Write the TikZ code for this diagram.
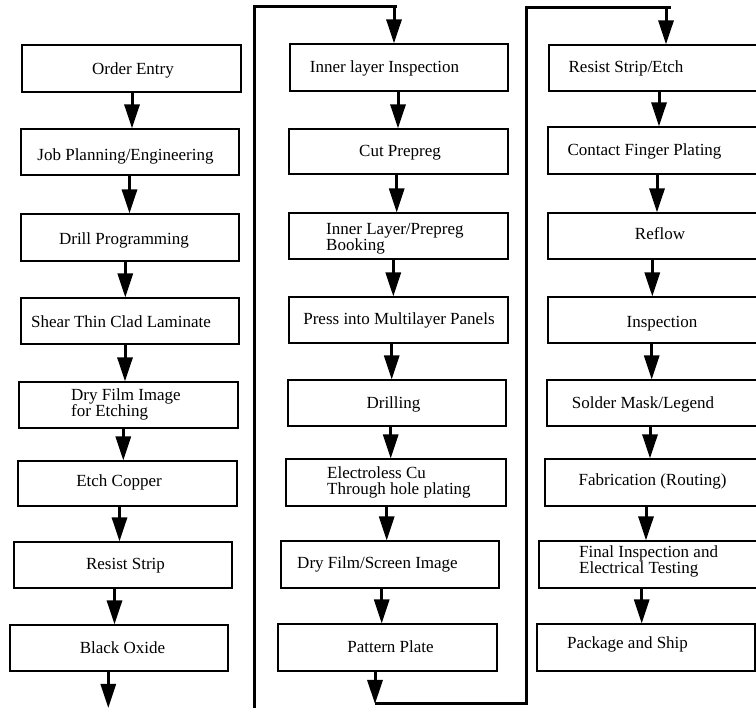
\documentclass[tikz,border=0pt]{standalone}
\usepackage{fontspec}
\setmainfont{Liberation Serif}
\usetikzlibrary{arrows.meta,fit}

\tikzset{
  stepbox/.style={draw, line width=1.1pt, inner sep=0pt},
  caption/.style={font=\fontsize{17}{17}\selectfont, inner sep=0pt},
  flow/.style={line width=3pt, -{Triangle[length=24pt,width=15pt]}},
  link/.style={line width=3pt},
}

% box with one centred line: name, x1, y1, x2, y2, text x, baseline, text
\newcommand\onebox[8]{%
  \node[stepbox, fit={(#2,#3) (#4,#5)}] (#1) {};
  \node[caption, anchor=base] (#1-t) at (#6,#7) {#8};}
% box with two left-aligned lines: name, x1, y1, x2, y2, left x, first baseline, line 1, line 2
\newcommand\twobox[9]{%
  \node[stepbox, fit={(#2,#3) (#4,#5)}] (#1) {};
  \node[caption, anchor=base west] (#1-t) at (#6,#7) {#8};
  \node[caption, anchor=base west] (#1-u) at (#6,{#7+16}) {#9};}
% arrow from one box down to the next at a given x
\newcommand\flowstep[3]{%
  \coordinate (#1-x) at (#3,0);
  \draw[flow] (#1.south -| #1-x) -- (#2.north -| #1-x);}

\begin{document}
\begin{tikzpicture}[x=1pt, y=-1pt]
\useasboundingbox (0,0) rectangle (756,708);
\clip (0,0) rectangle (756,708);

% first column
\onebox{b1}{22}{45}{241}{92}{133}{74.5}{Order Entry}
\onebox{b2}{21}{129}{239}{175}{125.5}{161}{Job Planning/Engineering}
\onebox{b3}{21}{214}{239}{261}{124}{244.3}{Drill Programming}
\onebox{b4}{21}{298}{239}{344}{121}{327.3}{Shear Thin Clad Laminate}
\twobox{b5}{19}{382}{238}{428}{71}{400.7}{Dry Film Image}{for Etching}
\onebox{b6}{18}{461}{237}{506}{119}{486.7}{Etch Copper}
\onebox{b7}{14}{542}{232}{588}{125.5}{570}{Resist Strip}
\onebox{b8}{10}{625}{228}{671}{122.5}{653.3}{Black Oxide}

% second column
\onebox{b9}{290}{44}{508}{91}{384.5}{72.7}{Inner layer Inspection}
\onebox{b10}{289}{129}{508}{174}{400}{156.7}{Cut Prepreg}
\twobox{b11}{289}{213}{508}{259}{326}{235}{Inner Layer/Prepreg}{Booking}
\onebox{b12}{289}{297}{508}{343}{399}{324.3}{Press into Multilayer Panels}
\onebox{b13}{288}{380}{506}{426}{393.5}{408.3}{Drilling}
\twobox{b14}{286}{459}{506}{506}{327}{478.3}{Electroless Cu}{Through hole plating}
\onebox{b15}{281}{541}{499}{588}{377.5}{568.3}{Dry Film/Screen Image}
\onebox{b16}{278}{624}{497}{671}{390.5}{652.7}{Pattern Plate}

% third column
\onebox{b17}{549}{45}{767}{91}{626}{72.7}{Resist Strip/Etch}
\onebox{b18}{548}{127}{766}{174}{644.5}{156}{Contact Finger Plating}
\onebox{b19}{548}{213}{766}{259}{660}{240}{Reflow}
\onebox{b20}{548}{297}{766}{343}{662}{327.3}{Inspection}
\onebox{b21}{547}{380}{765}{426}{643}{408.3}{Solder Mask/Legend}
\onebox{b22}{545}{459}{763}{506}{652.5}{486}{Fabrication (Routing)}
\twobox{b23}{539}{541}{757}{588}{579}{557.7}{Final Inspection and}{Electrical Testing}
\onebox{b24}{537}{624}{755}{671}{627.5}{649}{Package and Ship}

% arrows within the columns
\flowstep{b1}{b2}{132}
\flowstep{b2}{b3}{129.5}
\flowstep{b3}{b4}{125.3}
\flowstep{b4}{b5}{125}
\flowstep{b5}{b6}{123.3}
\flowstep{b6}{b7}{119.5}
\flowstep{b7}{b8}{114.5}

\flowstep{b9}{b10}{398}
\flowstep{b10}{b11}{396.7}
\flowstep{b11}{b12}{393.3}
\flowstep{b12}{b13}{391.7}
\flowstep{b13}{b14}{390.7}
\flowstep{b14}{b15}{386.7}
\flowstep{b15}{b16}{381.7}

\flowstep{b17}{b18}{659}
\flowstep{b18}{b19}{657}
\flowstep{b19}{b20}{652.3}
\flowstep{b20}{b21}{651.7}
\flowstep{b21}{b22}{650}
\flowstep{b22}{b23}{646}
\flowstep{b23}{b24}{641.7}

% first column runs off the bottom and comes back up at the left of the second
\coordinate (endA) at (108.3,708);
\draw[flow] (b8.south -| endA) -- (endA);
\coordinate (wrapA) at (254,712);
\coordinate (cornerA) at (254,7);
\coordinate (runA) at (397,7);
\coordinate (dropA) at (394,7);
\draw[link] (wrapA) -- (cornerA) -- (runA);
\draw[flow] (dropA) -- (b9.north -| dropA);

% second column turns under and up into the third
\coordinate (endB) at (375,704);
\coordinate (wrapB) at (526,704);
\coordinate (cornerB) at (526,8);
\coordinate (runB) at (671,8);
\coordinate (dropB) at (666,8);
\draw[flow] (b16.south -| endB) -- (endB);
\draw[link] (endB) -- (wrapB) -- (cornerB) -- (runB);
\draw[flow] (dropB) -- (b17.north -| dropB);
\end{tikzpicture}
\end{document}
